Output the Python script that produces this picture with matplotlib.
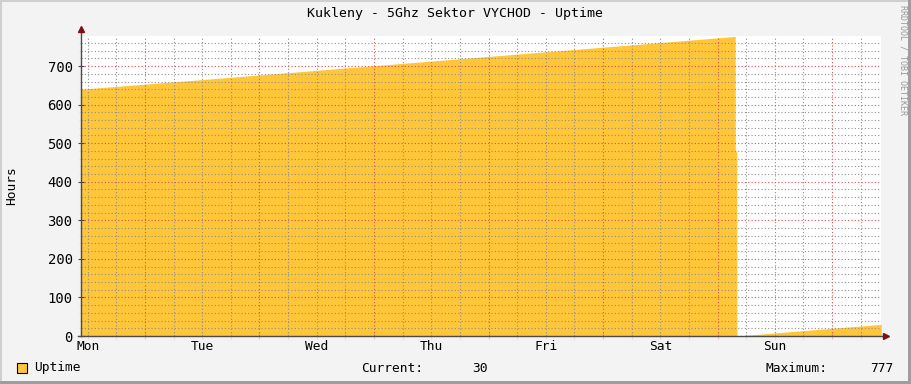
# Uptime graph in the rrdtool look

#############
# LIBRARIES #
#############

import matplotlib
matplotlib.use('Agg')
import matplotlib.pyplot as plt
from matplotlib.patches import Rectangle

##############
# PARAMETERS #
##############

# Hours since Monday 00:00 and the uptime value
Time_hours 			= [10.6, 36.0, 60.0, 84.0, 108.0, 132.0, 147.70, 147.72, 148.04, 148.06, 160.0, 170.0, 178.3]
Uptime 				= [640, 665, 689, 713, 737, 761, 777, 480, 480, 0, 12, 22, 30]

Day_labels 			= ['Mon', 'Tue', 'Wed', 'Thu', 'Fri', 'Sat', 'Sun']
Day_noon 			= [12, 36, 60, 84, 108, 132, 156]
Midnights 			= [24, 48, 72, 96, 120, 144, 168]
Six_hours 			= [12, 18, 30, 36, 42, 54, 60, 66, 78, 84, 90, 102, 108, 114, 126, 132, 138, 150, 156, 162, 174]
Y_major 			= [0, 100, 200, 300, 400, 500, 600, 700]
Y_minor 			= [20, 40, 60, 80, 120, 140, 160, 180, 220, 240, 260, 280, 320, 340, 360, 380,
					   420, 440, 460, 480, 520, 540, 560, 580, 620, 640, 660, 680, 720, 740, 760]

Current_value 		= 30
Maximum_value 		= 777

Title 				= "Kukleny - 5Ghz Sektor VYCHOD - Uptime"

# colors
Back_color 			= '#f3f3f3'
Area_color 			= '#ffc63a'
Grid_color 			= (0.56, 0.56, 0.56, 0.22)
Mgrid_color 		= (0.87, 0.31, 0.31, 0.30)
Axis_color 			= '#4a4a4a'
Arrow_color 		= '#7f1010'

W, H 				= 911, 384
FONT 				= 'DejaVu Sans Mono'
FS 					= 9.3

def fx(x):
	return x / W

def fy(y):
	return 1 - y / H

########
# CODE #
########

fig = plt.figure(figsize=(W/100, H/100), dpi=100, facecolor=Back_color)
ax = fig.add_axes([fx(81), fy(336), 800/W, 300/H])
ax.set_facecolor('white')

# the area
ax.fill_between(Time_hours, Uptime, 0, color=Area_color, linewidth=0, zorder=1)

ax.set_xlim(10.59, 178.26)
ax.set_ylim(0, 778)

# dotted grid on top of the area
ax.set_xticks(Midnights)
ax.set_xticks(Six_hours, minor=True)
ax.set_yticks(Y_major)
ax.set_yticks(Y_minor, minor=True)
ax.set_axisbelow(False)
ax.grid(which='major', color=Mgrid_color, linestyle=(0, (1, 2)), linewidth=0.8, zorder=2)
ax.grid(which='minor', color=Grid_color, linestyle=(0, (1, 2)), linewidth=0.8, zorder=2)
ax.set_xticklabels([])

ax.tick_params(axis='x', which='major', direction='inout', length=4, color=Mgrid_color, width=0.8)
ax.tick_params(axis='x', which='minor', direction='inout', length=4, color=Grid_color, width=0.8)
ax.tick_params(axis='y', which='major', direction='inout', length=4, color=Axis_color, width=0.8,
			   labelsize=10, pad=4)
ax.tick_params(axis='y', which='minor', direction='inout', length=3, color=Grid_color, width=0.8)
for lab in ax.get_yticklabels():
	lab.set_family(FONT)

for s in ['top', 'right', 'left', 'bottom']:
	ax.spines[s].set_visible(False)

# axes lines with arrows
ax.plot([0, 0], [0, 1.02], transform=ax.transAxes, color=Axis_color, linewidth=1, clip_on=False, zorder=3)
ax.plot([-0.004, 1.007], [0, 0], transform=ax.transAxes, color=Axis_color, linewidth=1, clip_on=False, zorder=3)
ax.plot([0], [1.023], transform=ax.transAxes, marker='^', markersize=4, color=Arrow_color, clip_on=False, zorder=4)
ax.plot([1.0065], [0], transform=ax.transAxes, marker='>', markersize=4, color=Arrow_color, clip_on=False, zorder=4)

# day labels centered at noon
for d, t in zip(Day_labels, Day_noon):
	ax.text(t, -0.035, d, transform=ax.get_xaxis_transform(), ha='center', va='center',
			fontsize=FS, family=FONT)

# texts
fig.text(fx(455), fy(14), Title, ha='center', va='center', fontsize=9.5, family=FONT)
fig.text(fx(12), fy(186), 'Hours', ha='center', va='center', rotation=90, fontsize=FS, family=FONT)
fig.text(fx(903), fy(5), 'RRDTOOL / TOBI OETIKER', ha='center', va='top', rotation=270,
		 fontsize=6, family=FONT, color='#999999')

# legend
fig.add_artist(Rectangle((fx(17), fy(373)), 10/W, 10/H, facecolor=Area_color, edgecolor='black', linewidth=0.8))
fig.text(fx(34), fy(368), 'Uptime', ha='left', va='center', fontsize=FS, family=FONT)
fig.text(fx(361), fy(368), 'Current:', ha='left', va='center', fontsize=FS, family=FONT)
fig.text(fx(488), fy(368), str(Current_value), ha='right', va='center', fontsize=FS, family=FONT)
fig.text(fx(766), fy(368), 'Maximum:', ha='left', va='center', fontsize=FS, family=FONT)
fig.text(fx(893), fy(368), str(Maximum_value), ha='right', va='center', fontsize=FS, family=FONT)

# shaded border
fig.add_artist(Rectangle((0, fy(2)), 1, 2/H, facecolor='#cfcfcf', edgecolor='none'))
fig.add_artist(Rectangle((0, 0), 2/W, 1, facecolor='#cfcfcf', edgecolor='none'))
fig.add_artist(Rectangle((0, 0), 1, 3/H, facecolor='#9e9e9e', edgecolor='none'))
fig.add_artist(Rectangle((fx(908), 0), 3/W, 1, facecolor='#9e9e9e', edgecolor='none'))

plt.savefig('out.png', dpi=100, facecolor=Back_color)
